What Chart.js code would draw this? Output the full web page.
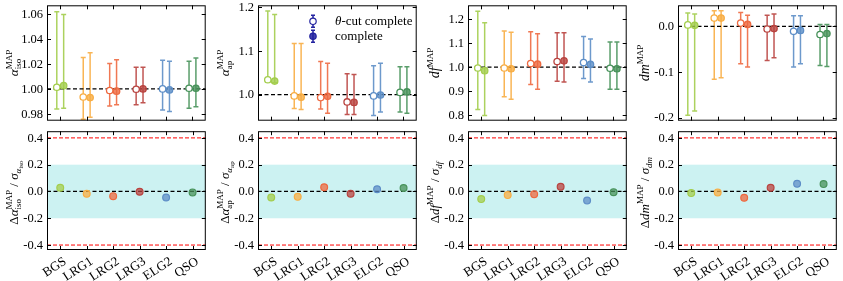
<!DOCTYPE html>
<html>
<head>
<meta charset="utf-8">
<script src="https://cdn.jsdelivr.net/npm/chart.js@4.4.1/dist/chart.umd.min.js"></script>
<style>
  body { margin: 0; background: #fff; }
  #wrap { position: relative; width: 843px; height: 281px; overflow: hidden; background: #fff; }
  canvas { position: absolute; }
</style>
</head>
<body>
<div id="wrap"></div>
<script>
const categories = ['BGS', 'LRG1', 'LRG2', 'LRG3', 'ELG2', 'QSO'];
const colors = ['#a3cd4c', '#f8ad43', '#ee6940', '#b9433f', '#5d8ec7', '#47925a'];

// alpha_iso
const isoThetaVal = [1.0013, 0.9935, 0.9987, 0.9997, 1.0000, 1.0005];
const isoThetaLo  = [0.9839, 0.9757, 0.9862, 0.9873, 0.9831, 0.9844];
const isoThetaHi  = [1.0618, 1.0252, 1.0203, 1.0174, 1.0229, 1.0221];
const isoCompVal  = [1.0026, 0.9930, 0.9982, 1.0000, 0.9992, 1.0005];
const isoCompLo   = [0.9844, 0.9772, 0.9873, 0.9888, 0.9818, 0.9857];
const isoCompHi   = [1.0597, 1.0290, 1.0234, 1.0174, 1.0221, 1.0247];

// alpha_ap
const apThetaVal = [1.034, 0.997, 0.993, 0.983, 0.997, 1.005];
const apThetaLo  = [1.029, 0.968, 0.967, 0.954, 0.952, 0.960];
const apThetaHi  = [1.192, 1.117, 1.076, 1.048, 1.066, 1.064];
const apCompVal  = [1.031, 0.994, 0.996, 0.982, 0.999, 1.006];
const apCompLo   = [1.027, 0.966, 0.957, 0.954, 0.960, 0.957];
const apCompHi   = [1.184, 1.117, 1.072, 1.046, 1.072, 1.064];

// df
const dfThetaVal = [0.996, 0.996, 1.015, 1.023, 1.019, 0.995];
const dfThetaLo  = [0.822, 0.876, 0.927, 0.941, 0.952, 0.907];
const dfThetaHi  = [1.234, 1.151, 1.148, 1.144, 1.128, 1.105];
const dfCompVal  = [0.985, 0.993, 1.012, 1.026, 1.011, 0.993];
const dfCompLo   = [0.797, 0.865, 0.907, 0.937, 0.937, 0.907];
const dfCompHi   = [1.185, 1.146, 1.139, 1.144, 1.117, 1.105];

// dm
const dmThetaVal = [0.003, 0.018, 0.007, -0.006, -0.011, -0.018];
const dmThetaLo  = [-0.195, -0.116, -0.082, -0.075, -0.089, -0.086];
const dmThetaHi  = [0.029, 0.034, 0.030, 0.024, 0.023, 0.004];
const dmCompVal  = [0.002, 0.018, 0.004, -0.005, -0.009, -0.016];
const dmCompLo   = [-0.186, -0.113, -0.089, -0.069, -0.082, -0.088];
const dmCompHi   = [0.027, 0.034, 0.024, 0.027, 0.023, 0.004];

// normalised differences (bottom row)
const isoDiff = [0.027, -0.017, -0.035, -0.002, -0.045, -0.007];
const apDiff  = [-0.045, -0.040, 0.032, -0.017, 0.017, 0.025];
const dfDiff  = [-0.057, -0.027, -0.020, 0.035, -0.067, -0.005];
const dmDiff  = [-0.012, -0.007, -0.047, 0.027, 0.057, 0.055];

const isoTicks = [0.98, 1.00, 1.02, 1.04, 1.06];
const apTicks = [1.0, 1.1, 1.2];
const dfTicks = [0.8, 0.9, 1.0, 1.1, 1.2];
const dmTicks = [-0.2, -0.1, 0.0];
const diffTicks = [-0.4, -0.2, 0.0, 0.2, 0.4];

const FONT = '"Liberation Serif", "DejaVu Serif", serif';
const colLeft = [47, 258, 468, 678];
const panelW = 162;
const offset = 0.13;

function rgba(hex, a) {
  const n = parseInt(hex.slice(1), 16);
  return `rgba(${n >> 16},${(n >> 8) & 255},${n & 255},${a})`;
}
function fmt(v, d) {
  const txt = Math.abs(v).toFixed(d);
  return v < -1e-9 ? '-' + txt : txt;
}

// draw a label made of parts with sub/superscripts, rotated -90deg
function drawRich(ctx, parts, bx, cy) {
  const font = p => `${p.it ? 'italic ' : ''}${p.s}px ${FONT}`;
  const widths = parts.map(p => { ctx.font = font(p); return ctx.measureText(p.t).width; });
  let total = 0;
  for (let i = 0; i < parts.length; i++) {
    if (parts[i].stack) { total += Math.max(widths[i], widths[i + 1]); i++; }
    else total += widths[i];
  }
  ctx.save();
  ctx.translate(bx, cy);
  ctx.rotate(-Math.PI / 2);
  ctx.fillStyle = '#000';
  ctx.textBaseline = 'alphabetic';
  ctx.textAlign = 'left';
  let x = -total / 2;
  for (let i = 0; i < parts.length; i++) {
    const p = parts[i];
    ctx.font = font(p);
    ctx.fillText(p.t, x, p.dy || 0);
    if (p.stack) {
      const q = parts[i + 1];
      ctx.font = font(q);
      ctx.fillText(q.t, x, q.dy || 0);
      x += Math.max(widths[i], widths[i + 1]);
      i++;
    } else x += widths[i];
  }
  ctx.restore();
}

const panelPlugin = {
  id: 'panel',
  beforeDatasetsDraw(chart) {
    const cfg = chart.options.plugins.panel;
    const { ctx, chartArea: a, scales: { x, y } } = chart;
    ctx.save();
    ctx.beginPath();
    ctx.rect(a.left, a.top, a.right - a.left, a.bottom - a.top);
    ctx.clip();
    if (cfg.band) {
      const y1 = y.getPixelForValue(cfg.band[1]);
      const y0 = y.getPixelForValue(cfg.band[0]);
      ctx.fillStyle = 'rgba(0,190,190,0.2)';
      ctx.fillRect(a.left, y1, a.right - a.left, y0 - y1);
    }
    chart.data.datasets.forEach(ds => {
      if (!ds.lo) return;
      ds.data.forEach((p, i) => {
        const px = x.getPixelForValue(p.x);
        const pl = y.getPixelForValue(ds.lo[i]);
        const ph = y.getPixelForValue(ds.hi[i]);
        ctx.strokeStyle = rgba(colors[i], 0.9);
        ctx.lineWidth = 1.5;
        ctx.beginPath();
        ctx.moveTo(px, pl); ctx.lineTo(px, ph);
        ctx.moveTo(px - 2.5, pl); ctx.lineTo(px + 2.5, pl);
        ctx.moveTo(px - 2.5, ph); ctx.lineTo(px + 2.5, ph);
        ctx.stroke();
      });
    });
    cfg.lines.forEach(l => {
      const py = y.getPixelForValue(l.v);
      ctx.strokeStyle = l.c;
      ctx.lineWidth = l.w;
      ctx.setLineDash(l.d);
      ctx.beginPath();
      ctx.moveTo(a.left, py); ctx.lineTo(a.right, py);
      ctx.stroke();
    });
    ctx.restore();
  },
  afterDraw(chart) {
    const cfg = chart.options.plugins.panel;
    const { ctx, chartArea: a, scales: { x, y } } = chart;
    ctx.save();
    ctx.strokeStyle = '#000';
    ctx.lineWidth = 1;
    ctx.strokeRect(a.left + 0.5, a.top + 0.5, a.right - a.left - 1, a.bottom - a.top - 1);
    ctx.beginPath();
    y.ticks.forEach(t => {
      const py = Math.round(y.getPixelForValue(t.value)) + 0.5;
      ctx.moveTo(a.left, py); ctx.lineTo(a.left + 4, py);
      ctx.moveTo(a.right - 4, py); ctx.lineTo(a.right, py);
    });
    categories.forEach((c, i) => {
      const px = Math.round(x.getPixelForValue(i)) + 0.5;
      ctx.moveTo(px, a.top); ctx.lineTo(px, a.top + 4);
      ctx.moveTo(px, a.bottom - 4); ctx.lineTo(px, a.bottom);
    });
    ctx.stroke();

    // y tick labels
    ctx.fillStyle = '#000';
    ctx.font = `12.5px "DejaVu Serif", serif`;
    ctx.font = `12.5px ${FONT}`;
    ctx.textAlign = 'right';
    ctx.textBaseline = 'middle';
    y.ticks.forEach(t => {
      ctx.fillText(fmt(t.value, cfg.dec), a.left - 4, y.getPixelForValue(t.value) + 0.5);
    });

    drawRich(ctx, cfg.title, a.left - 29, (a.top + a.bottom) / 2 + (cfg.xlabels ? 2 : 0));

    if (cfg.xlabels) {
      ctx.font = `13px ${FONT}`;
      ctx.fillStyle = '#000';
      categories.forEach((c, i) => {
        const px = x.getPixelForValue(i);
        ctx.save();
        ctx.translate(px + 1.5, a.bottom + 5);
        ctx.rotate(-33 * Math.PI / 180);
        ctx.textAlign = 'right';
        ctx.textBaseline = 'top';
        ctx.fillText(c, 0, 0);
        ctx.restore();
      });
    }

    if (cfg.legend) {
      const navy = '#2323a0';
      const lx = a.left + 55;
      [[a.top + 16, '#fff'], [a.top + 31, rgba(navy, 0.85)]].forEach(([ly, fill]) => {
        ctx.strokeStyle = navy;
        ctx.lineWidth = 1.5;
        ctx.beginPath();
        ctx.moveTo(lx, ly - 6); ctx.lineTo(lx, ly + 6);
        ctx.moveTo(lx - 2, ly - 6); ctx.lineTo(lx + 2, ly - 6);
        ctx.moveTo(lx - 2, ly + 6); ctx.lineTo(lx + 2, ly + 6);
        ctx.stroke();
        ctx.beginPath();
        ctx.arc(lx, ly, 3.2, 0, Math.PI * 2);
        ctx.fillStyle = fill;
        ctx.fill();
        ctx.lineWidth = 1.2;
        ctx.stroke();
      });
      ctx.fillStyle = '#000';
      ctx.textBaseline = 'middle';
      ctx.textAlign = 'left';
      ctx.font = `italic 13px ${FONT}`;
      ctx.fillText('\u03b8', a.left + 77, a.top + 16);
      const tw = ctx.measureText('\u03b8').width;
      ctx.font = `13px ${FONT}`;
      ctx.fillText('-cut complete', a.left + 77 + tw, a.top + 16);
      ctx.fillText('complete', a.left + 77, a.top + 31);
    }
    ctx.restore();
  }
};

function makePanel(col, row, opt) {
  const top = row === 0 ? 5 : 131;
  const h = row === 0 ? 118 : 119;
  const cw = 47 + panelW + 2;
  const ch = row === 0 ? 126 : 155;
  const canvas = document.createElement('canvas');
  canvas.width = cw; canvas.height = ch;
  canvas.style.left = (colLeft[col] - 47) + 'px';
  canvas.style.top = (top - 5) + 'px';
  canvas.style.width = cw + 'px'; canvas.style.height = ch + 'px';
  document.getElementById('wrap').appendChild(canvas);

  opt.panel.dec = opt.dec;
  new Chart(canvas.getContext('2d'), {
    type: 'scatter',
    data: { datasets: opt.datasets },
    options: {
      responsive: false,
      animation: false,
      devicePixelRatio: 1,
      layout: { padding: { left: 0, right: 2, top: 5, bottom: ch - 5 - h } },
      plugins: {
        legend: { display: false },
        tooltip: { enabled: false },
        panel: opt.panel
      },
      scales: {
        x: { type: 'linear', min: -0.5, max: 5.5, display: false },
        y: {
          type: 'linear', min: opt.yMin, max: opt.yMax,
          afterBuildTicks: s => { s.ticks = opt.yTicks.map(v => ({ value: v })); },
          afterFit: s => { s.width = 47; s.paddingTop = 0; s.paddingBottom = 0; },
          grid: { display: false },
          border: { display: false },
          ticks: { display: false }
        }
      }
    },
    plugins: [panelPlugin]
  });
}

function topSets(tv, tl, th, cv, cl, ch) {
  return [
    {
      data: tv.map((v, i) => ({ x: i - offset, y: v })), lo: tl, hi: th,
      pointRadius: 3.2, pointBorderWidth: 1.3,
      pointBackgroundColor: '#fff', pointBorderColor: colors
    },
    {
      data: cv.map((v, i) => ({ x: i + offset, y: v })), lo: cl, hi: ch,
      pointRadius: 3.2, pointBorderWidth: 1.3,
      pointBackgroundColor: colors.map(c => rgba(c, 0.8)), pointBorderColor: colors
    }
  ];
}
function botSets(d) {
  return [{
    data: d.map((v, i) => ({ x: i, y: v })),
    pointRadius: 3.4, pointBorderWidth: 1.2,
    pointBackgroundColor: colors.map(c => rgba(c, 0.75)), pointBorderColor: colors
  }];
}

const dash0 = v => ({ v, c: '#000', w: 1.2, d: [4, 2.5] });
const redLines = [
  { v: 0.4, c: '#ff0000', w: 1, d: [4, 2] },
  { v: -0.4, c: '#ff0000', w: 1, d: [4, 2] },
  dash0(0)
];
const S = 13, s = 9;

// top row
makePanel(0, 0, {
  datasets: topSets(isoThetaVal, isoThetaLo, isoThetaHi, isoCompVal, isoCompLo, isoCompHi),
  yMin: 0.9745, yMax: 1.067, yTicks: isoTicks, dec: 2,
  panel: { lines: [dash0(1)], title: [{ t: '\u03b1', it: true, s: S }, { t: 'MAP', s, dy: -6, stack: true }, { t: 'iso', s, dy: 3 }] }
});
makePanel(1, 0, {
  datasets: topSets(apThetaVal, apThetaLo, apThetaHi, apCompVal, apCompLo, apCompHi),
  yMin: 0.94, yMax: 1.205, yTicks: apTicks, dec: 1,
  panel: { lines: [dash0(1)], legend: true, title: [{ t: '\u03b1', it: true, s: S }, { t: 'MAP', s, dy: -6, stack: true }, { t: 'ap', s, dy: 3 }] }
});
makePanel(2, 0, {
  datasets: topSets(dfThetaVal, dfThetaLo, dfThetaHi, dfCompVal, dfCompLo, dfCompHi),
  yMin: 0.7755, yMax: 1.2585, yTicks: dfTicks, dec: 1,
  panel: { lines: [dash0(1)], title: [{ t: 'df', it: true, s: S + 1 }, { t: 'MAP', s, dy: -6 }] }
});
makePanel(3, 0, {
  datasets: topSets(dmThetaVal, dmThetaLo, dmThetaHi, dmCompVal, dmCompLo, dmCompHi),
  yMin: -0.207, yMax: 0.046, yTicks: dmTicks, dec: 1,
  panel: { lines: [dash0(0)], title: [{ t: 'dm', it: true, s: S + 1 }, { t: 'MAP', s, dy: -6 }] }
});

// bottom row
const band = [-0.2, 0.2];
makePanel(0, 1, {
  datasets: botSets(isoDiff), yMin: -0.437, yMax: 0.45, yTicks: diffTicks, dec: 1,
  panel: { lines: redLines, band, xlabels: true, title: [
    { t: '\u0394', s: S }, { t: '\u03b1', it: true, s: S }, { t: 'MAP', s, dy: -6, stack: true }, { t: 'iso', s, dy: 3 },
    { t: ' / ', s: S }, { t: '\u03c3', it: true, s: S }, { t: '\u03b1', it: true, s, dy: 3 }, { t: 'iso', s: 7, dy: 5 }] }
});
makePanel(1, 1, {
  datasets: botSets(apDiff), yMin: -0.437, yMax: 0.45, yTicks: diffTicks, dec: 1,
  panel: { lines: redLines, band, xlabels: true, title: [
    { t: '\u0394', s: S }, { t: '\u03b1', it: true, s: S }, { t: 'MAP', s, dy: -6, stack: true }, { t: 'ap', s, dy: 3 },
    { t: ' / ', s: S }, { t: '\u03c3', it: true, s: S }, { t: '\u03b1', it: true, s, dy: 3 }, { t: 'ap', s: 7, dy: 5 }] }
});
makePanel(2, 1, {
  datasets: botSets(dfDiff), yMin: -0.437, yMax: 0.45, yTicks: diffTicks, dec: 1,
  panel: { lines: redLines, band, xlabels: true, title: [
    { t: '\u0394', s: S }, { t: 'df', it: true, s: S }, { t: 'MAP', s, dy: -6 },
    { t: ' / ', s: S }, { t: '\u03c3', it: true, s: S }, { t: 'df', it: true, s, dy: 3 }] }
});
makePanel(3, 1, {
  datasets: botSets(dmDiff), yMin: -0.437, yMax: 0.45, yTicks: diffTicks, dec: 1,
  panel: { lines: redLines, band, xlabels: true, title: [
    { t: '\u0394', s: S }, { t: 'dm', it: true, s: S }, { t: 'MAP', s, dy: -6 },
    { t: ' / ', s: S }, { t: '\u03c3', it: true, s: S }, { t: 'dm', it: true, s, dy: 3 }] }
});
</script>
</body>
</html>
